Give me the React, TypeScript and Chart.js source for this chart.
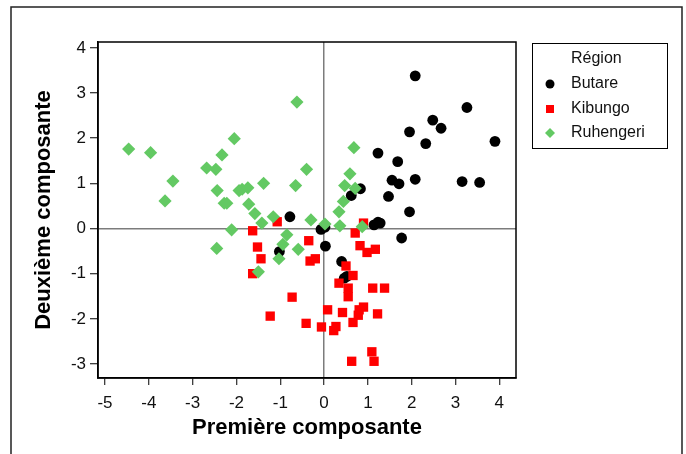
import React, { useEffect, useRef } from "react";
import { Chart, registerables } from "chart.js";

Chart.register(...registerables);

// ---- Data ----
const xTicks = [-5, -4, -3, -2, -1, 0, 1, 2, 3, 4];
const yTicks = [-3, -2, -1, 0, 1, 2, 3, 4];
const legendTitle = "Région";
const xTitle = "Première composante";
const yTitle = "Deuxième composante";
const regionNames = ["Butare", "Kibungo", "Ruhengeri"];

const butare: [number, number][] = [
  [2.08, 3.38], [3.26, 2.68], [2.48, 2.4], [2.67, 2.22], [1.95, 2.14], [3.9, 1.93],
  [2.32, 1.88], [1.23, 1.67], [1.68, 1.48], [1.55, 1.07], [1.71, 0.99], [2.08, 1.09],
  [3.15, 1.04], [3.55, 1.02], [0.83, 0.88], [0.62, 0.73], [1.47, 0.71], [1.95, 0.37],
  [1.23, 0.14], [1.28, 0.12], [1.14, 0.08], [-0.07, -0.02], [0.02, 0.03], [0.03, -0.39],
  [0.4, -0.73], [0.46, -1.1], [0.52, -1.06], [1.77, -0.21], [-0.78, 0.26], [-1.02, -0.51],
];

const kibungo: [number, number][] = [
  [0.9, 0.12], [0.71, -0.1], [0.82, -0.38], [0.98, -0.53], [1.17, -0.46], [-0.35, -0.27],
  [-0.32, -0.72], [-0.2, -0.67], [0.5, -0.83], [0.66, -1.04], [0.34, -1.21], [0.55, -1.32],
  [0.55, -1.51], [1.11, -1.32], [1.38, -1.32], [0.08, -1.8], [0.42, -1.86], [0.9, -1.74],
  [0.8, -1.8], [0.78, -1.92], [1.22, -1.89], [0.66, -2.08], [-0.41, -2.1], [-0.06, -2.18],
  [0.27, -2.17], [0.22, -2.26], [1.09, -2.73], [1.14, -2.94], [0.63, -2.94], [-1.07, 0.15],
  [-1.63, -0.05], [-1.52, -0.41], [-1.44, -0.67], [-1.63, -1.0], [-0.73, -1.52], [-1.23, -1.94],
];

const ruhengeri: [number, number][] = [
  [-4.46, 1.76], [-3.96, 1.68], [-3.45, 1.05], [-3.63, 0.61], [-2.05, 1.99], [-2.33, 1.63],
  [-2.68, 1.34], [-2.47, 1.31], [-0.62, 2.8], [-0.4, 1.31], [-1.38, 1.0], [-0.65, 0.95],
  [-2.44, 0.84], [-1.94, 0.84], [-1.87, 0.87], [-1.74, 0.9], [-2.28, 0.56], [-2.22, 0.56],
  [-1.72, 0.54], [-1.58, 0.33], [-1.16, 0.26], [-1.42, 0.12], [-0.3, 0.19], [0.02, 0.1],
  [-2.11, -0.03], [-2.45, -0.44], [-0.85, -0.14], [-0.94, -0.35], [-1.03, -0.67], [-0.59, -0.46],
  [-1.5, -0.96], [0.68, 1.79], [0.59, 1.21], [0.47, 0.95], [0.71, 0.89], [0.44, 0.6],
  [0.34, 0.37], [0.36, 0.06], [0.87, 0.04],
];

const FONT = "'Liberation Sans', Arial, sans-serif";
const GREEN = "#63C963";
const RED = "#FF0000";
const BLACK = "#000000";

const toPts = (arr: [number, number][]) => arr.map(([x, y]) => ({ x, y }));

const framePlugin = {
  id: "frame",
  beforeDraw(chart: any) {
    const { ctx, width, height } = chart;
    ctx.save();
    ctx.fillStyle = "#fff";
    ctx.fillRect(0, 0, width, height);
    ctx.strokeStyle = "#222";
    ctx.lineWidth = 1.5;
    ctx.beginPath();
    ctx.moveTo(11, height + 2);
    ctx.lineTo(11, 7);
    ctx.lineTo(682, 7);
    ctx.lineTo(682, height + 2);
    ctx.stroke();
    ctx.restore();
  },
  beforeDatasetsDraw(chart: any) {
    const { ctx, chartArea: a } = chart;
    ctx.save();
    ctx.strokeStyle = "#000";
    ctx.lineWidth = 1.5;
    ctx.strokeRect(a.left, a.top, a.right - a.left, a.bottom - a.top);
    ctx.restore();
  },
};

const legendPlugin = {
  id: "customLegend",
  afterDraw(chart: any) {
    const { ctx } = chart;
    const bx = 532, by = 43, bw = 135, bh = 105;
    ctx.save();
    ctx.strokeStyle = "#000";
    ctx.lineWidth = 1;
    ctx.strokeRect(bx + 0.5, by + 0.5, bw, bh);
    ctx.font = `16px ${FONT}`;
    ctx.fillStyle = "#111";
    ctx.textBaseline = "middle";
    ctx.textAlign = "left";
    ctx.fillText(legendTitle, 571, 59);
    const rows = [84, 109, 133];
    chart.data.datasets.forEach((ds: any, i: number) => {
      const y = rows[i];
      const x = 550;
      ctx.fillStyle = ds.backgroundColor;
      ctx.beginPath();
      if (ds.pointStyle === "circle") {
        ctx.arc(x, y, 4.5, 0, Math.PI * 2);
      } else if (ds.pointStyle === "rect") {
        ctx.rect(x - 4, y - 4, 8, 8);
      } else {
        ctx.moveTo(x, y - 5);
        ctx.lineTo(x + 5, y);
        ctx.lineTo(x, y + 5);
        ctx.lineTo(x - 5, y);
        ctx.closePath();
      }
      ctx.fill();
      ctx.fillStyle = "#111";
      ctx.fillText(ds.label, 571, y);
    });
    ctx.restore();
  },
};

const gridColor = (c: any) =>
  c.tick && c.tick.value === 0 ? "#7c7c7c" : "rgba(0,0,0,0)";

export default function App() {
  const ref = useRef<HTMLCanvasElement>(null);

  useEffect(() => {
    if (!ref.current) return;
    const chart = new Chart(ref.current, {
      type: "scatter",
      data: {
        datasets: [
          {
            label: regionNames[0],
            data: toPts(butare),
            backgroundColor: BLACK,
            borderColor: BLACK,
            borderWidth: 0,
            pointStyle: "circle",
            pointRadius: 5.4,
            order: 3,
          },
          {
            label: regionNames[1],
            data: toPts(kibungo),
            backgroundColor: RED,
            borderColor: RED,
            borderWidth: 0,
            pointStyle: "rect",
            pointRadius: 6.6,
            order: 2,
          },
          {
            label: regionNames[2],
            data: toPts(ruhengeri),
            backgroundColor: GREEN,
            borderColor: GREEN,
            borderWidth: 0,
            pointStyle: "rectRot",
            pointRadius: 6.6,
            order: 1,
          },
        ],
      },
      options: {
        responsive: false,
        animation: false,
        layout: { padding: { left: 0, top: 42, right: 170, bottom: 0 } },
        plugins: { legend: { display: false }, tooltip: { enabled: false } },
        scales: {
          x: {
            type: "linear",
            min: -5.16,
            max: 4.38,
            afterBuildTicks: (s: any) => {
              s.ticks = xTicks.map((v) => ({ value: v }));
            },
            afterFit: (s: any) => {
              s.height = 76;
            },
            grid: {
              color: gridColor,
              lineWidth: 1.5,
              drawTicks: true,
              tickLength: 7,
              tickColor: "#000",
              tickWidth: 1,
            },
            border: { display: true, color: "#000", width: 1.5 },
            ticks: {
              autoSkip: false,
              maxRotation: 0,
              padding: 8,
              color: "#111",
              font: { family: FONT, size: 17 },
            },
            title: {
              display: true,
              text: xTitle,
              color: "#000",
              font: { family: FONT, size: 22, weight: "bold" },
              padding: { top: 0, bottom: 13 },
            },
          },
          y: {
            type: "linear",
            min: -3.31,
            max: 4.13,
            afterBuildTicks: (s: any) => {
              s.ticks = yTicks.map((v) => ({ value: v }));
            },
            afterFit: (s: any) => {
              s.width = 98;
            },
            grid: {
              color: gridColor,
              lineWidth: 1.5,
              drawTicks: true,
              tickLength: 8,
              tickColor: "#000",
              tickWidth: 1,
            },
            border: { display: true, color: "#000", width: 1.5 },
            ticks: {
              autoSkip: false,
              padding: 4,
              color: "#111",
              font: { family: FONT, size: 17 },
            },
            title: {
              display: true,
              text: yTitle,
              color: "#000",
              font: { family: FONT, size: 22, weight: "bold" },
              padding: { top: 31, bottom: 0 },
            },
          },
        },
      },
      plugins: [framePlugin, legendPlugin],
    });
    return () => chart.destroy();
  }, []);

  return (
    <div style={{ position: "fixed", left: 0, top: 0, width: 686, height: 454 }}>
      <canvas ref={ref} width={686} height={454} style={{ display: "block" }} />
    </div>
  );
}
